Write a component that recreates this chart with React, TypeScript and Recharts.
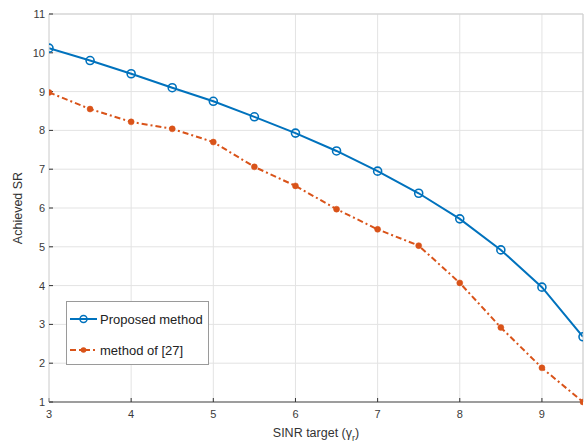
import { LineChart, Line, XAxis, YAxis, CartesianGrid, Legend } from 'recharts';

const sinrTargets = [3, 3.5, 4, 4.5, 5, 5.5, 6, 6.5, 7, 7.5, 8, 8.5, 9, 9.5];
const proposedSR = [10.12, 9.8, 9.46, 9.1, 8.75, 8.35, 7.93, 7.47, 6.95, 6.38, 5.72, 4.92, 3.96, 2.68];
const refMethodSR = [8.98, 8.55, 8.22, 8.04, 7.7, 7.06, 6.57, 5.97, 5.45, 5.03, 4.07, 2.92, 1.88, 1.0];
const xTicks = [3, 4, 5, 6, 7, 8, 9];
const yTicks = [1, 2, 3, 4, 5, 6, 7, 8, 9, 10, 11];
const seriesNames = ['Proposed method', 'method of [27]'];

const FONT = "'Liberation Sans', Arial, Helvetica, sans-serif";
const BLUE = '#0072BD';
const ORANGE = '#D95319';
const GRID = '#e3e3e3';
const TICK = { fill: '#3a3a3a', fontSize: 11, fontFamily: FONT };

const chartData = sinrTargets.map((x, i) => ({
  x,
  proposed: proposedSR[i],
  ref: refMethodSR[i],
}));

function XLabel({ viewBox }: any) {
  const cx = viewBox.x + viewBox.width / 2;
  return (
    <text x={cx} y={437} textAnchor="middle" fill="#333" fontSize={12.5} fontFamily={FONT}>
      SINR target (γ<tspan fontSize={9} dy={4}>r</tspan><tspan dy={-4}>)</tspan>
    </text>
  );
}

function YLabel({ viewBox }: any) {
  const cy = viewBox.y + viewBox.height / 2;
  return (
    <text x={18} y={cy} transform={`rotate(-90 18 ${cy})`} textAnchor="middle" dominantBaseline="central"
      fill="#333" fontSize={12.5} fontFamily={FONT}>
      Achieved SR
    </text>
  );
}

function LegendBox() {
  const rows = [
    { name: seriesNames[0], color: BLUE, dash: undefined, open: true },
    { name: seriesNames[1], color: ORANGE, dash: '6 3 2 3', open: false },
  ];
  return (
    <div style={{
      width: 143, height: 64, background: '#fff', border: '1px solid #9a9a9a',
      boxSizing: 'border-box', paddingTop: 4,
    }}>
      {rows.map((r) => (
        <div key={r.name} style={{ display: 'flex', alignItems: 'center', height: 26, marginBottom: 5 }}>
          <svg width={30} height={12} style={{ marginLeft: 2 }}>
            <line x1={1} y1={6} x2={28} y2={6} stroke={r.color} strokeWidth={2} strokeDasharray={r.dash} />
            {r.open
              ? <circle cx={14.5} cy={6} r={3.5} fill="none" stroke={r.color} strokeWidth={1.5} />
              : <circle cx={14.5} cy={6} r={2.8} fill={r.color} />}
          </svg>
          <span style={{ fontFamily: FONT, fontSize: 13, color: '#222', marginLeft: 1 }}>{r.name}</span>
        </div>
      ))}
    </div>
  );
}

export default function App() {
  return (
    <div style={{ position: 'absolute', left: 0, top: 0, width: 584, height: 443, background: '#fff' }}>
      <LineChart width={584} height={443} data={chartData} margin={{ top: 13, right: 0, left: 0, bottom: 0 }}>
        <CartesianGrid stroke={GRID} strokeWidth={1} />
        <XAxis
          dataKey="x" type="number" domain={[3, 9.5]} ticks={xTicks} allowDataOverflow
          height={41} tick={TICK} tickSize={-4} tickMargin={12}
          axisLine={{ stroke: '#4a4a4a', strokeWidth: 1.2 }} tickLine={{ stroke: '#333' }}
          label={<XLabel />}
        />
        <XAxis
          xAxisId="top" orientation="top" dataKey="x" type="number" domain={[3, 9.5]} ticks={xTicks}
          height={1} tick={false} tickSize={-4} axisLine={{ stroke: '#cfcfcf' }} tickLine={{ stroke: '#333' }}
        />
        <YAxis
          type="number" domain={[1, 11]} ticks={yTicks} width={49} tick={TICK} tickSize={-4} tickMargin={8}
          axisLine={{ stroke: '#d8d8d8' }} tickLine={{ stroke: '#333' }}
          label={<YLabel />}
        />
        <YAxis
          yAxisId="right" orientation="right" type="number" domain={[1, 11]} ticks={yTicks} width={1}
          tick={false} tickSize={-4} axisLine={{ stroke: '#cfcfcf' }} tickLine={{ stroke: '#333' }}
        />
        <Legend
          layout="horizontal" verticalAlign="middle" align="center"
          content={<LegendBox />}
          wrapperStyle={{ position: 'absolute', left: 66, top: 301, width: 143, height: 64 }}
        />
        <Line
          name={seriesNames[0]} dataKey="proposed" stroke={BLUE} strokeWidth={2}
          dot={{ r: 4, fill: 'none', stroke: BLUE, strokeWidth: 1.6 }} isAnimationActive={false}
        />
        <Line
          name={seriesNames[1]} dataKey="ref" stroke={ORANGE} strokeWidth={2} strokeDasharray="6 3 2 3"
          dot={{ r: 3, fill: ORANGE, stroke: ORANGE, strokeWidth: 0.5, strokeDasharray: '' }} isAnimationActive={false}
        />
      </LineChart>
    </div>
  );
}
